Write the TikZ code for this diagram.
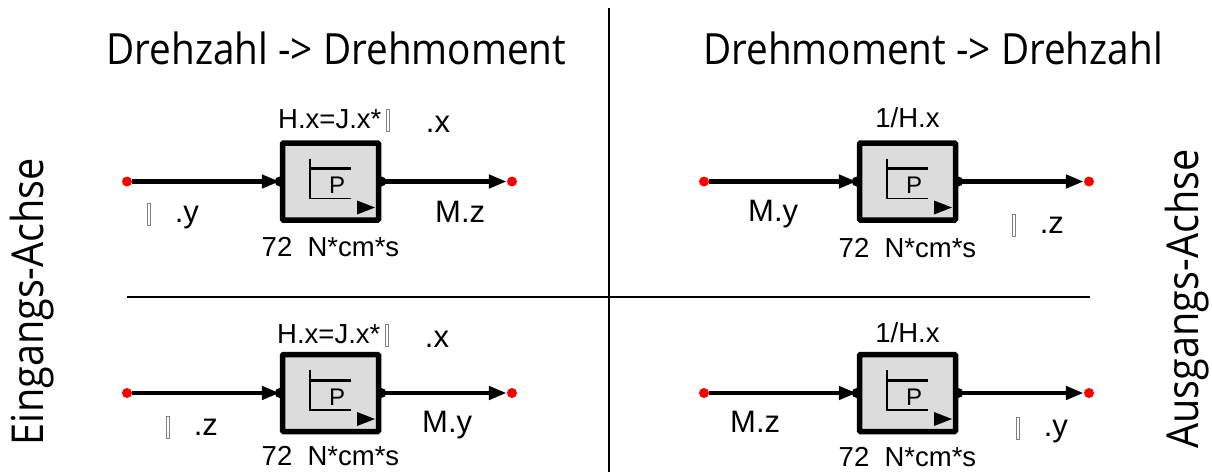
\documentclass[tikz,border=0pt]{standalone}
\usepackage{fontspec}
\usetikzlibrary{arrows.meta}
\newfontfamily\labfont{Liberation Sans}
\newfontfamily\handfont[FakeStretch=0.9]{Open Sans}
\definecolor{boxgray}{RGB}{220,220,220}
\newcommand\nog{\raisebox{-3pt}{\color{gray}\fboxsep=0pt\fboxrule=0.6pt\fbox{\rule{0pt}{21pt}\hspace{2.4pt}}}}
\tikzset{
  blk/.style={draw, line width=5.5pt, fill=boxgray, minimum width=96pt, minimum height=77pt, inner sep=0pt, rounded corners=1pt},
  pin/.style={circle, fill=red, inner sep=0pt, minimum size=10pt},
  port/.style={circle, fill=black, inner sep=0pt, minimum size=10pt},
  sig/.style={line width=4.5pt, -{Triangle[length=18pt,width=13pt]}},
  par/.style={font=\labfont\fontsize{27.5}{32}\selectfont, inner sep=0pt},
  lab/.style={font=\labfont\fontsize{31}{36}\selectfont, inner sep=0pt, anchor=base west},
  head/.style={font=\handfont\fontsize{43}{50}\selectfont, inner sep=0pt, anchor=base},
}
\begin{document}
\begin{tikzpicture}[x=1pt, y=-1pt]
            \useasboundingbox (0,0) rectangle (1212,472);
            \node[head] (h1) at (336.5,64) {Drehzahl -> Drehmoment};
            \node[head] (h2) at (933,64) {Drehmoment -> Drehzahl};
            \node[head, rotate=90, font=\handfont\fontsize{44}{50}\selectfont] (ein) at (43,301.5) {Eingangs-Achse};
            \node[head, rotate=90, font=\handfont\fontsize{44}{50}\selectfont] (aus) at (1198,299) {Ausgangs-Achse};
            \coordinate (vt) at (609,8);
            \coordinate (vb) at (609,472);
            \coordinate (hl) at (127,297);
            \coordinate (hr) at (1090,297);
            \draw[line width=1.2pt] (vt) -- (vb);
            \draw[line width=1.2pt] (hl) -- (hr);
            \foreach \n/\cx/\cy in {a/330.5/181.5, b/907.5/181.5, c/330.5/393, d/907.5/393} {
              \node[blk] (bx\n) at (\cx,\cy) {};
              \node[pin] (in\n) at (\cx-203.5,\cy) {};
              \node[pin] (out\n) at (\cx+181.5,\cy) {};
              \draw[line width=1.5pt] ([shift={(-20.5,-23)}]bx\n.center) -- ([shift={(-20.5,17)}]bx\n.center) -- ([shift={(20.5,17)}]bx\n.center);
              \draw[line width=3pt] ([shift={(-20.5,-13)}]bx\n.center) -- ([shift={(20.5,-13)}]bx\n.center);
              \fill ([shift={(26.5,19)}]bx\n.center) -- ([shift={(26.5,33)}]bx\n.center) -- ([shift={(44.5,26)}]bx\n.center) -- cycle;
              \node[font=\labfont\fontsize{24}{28}\selectfont, inner sep=0pt] (p\n) at ([shift={(6.5,4)}]bx\n.center) {P};
              \draw[sig] (in\n) -- (bx\n.west);
              \draw[sig] (bx\n.east) -- (out\n);
              \node[port] (pi\n) at (bx\n.west) {};
              \node[port] (po\n) at (bx\n.east) {};
            }
            \node[par, anchor=base west] (ta) at (278,128) {H.x=J.x*\hspace{5pt}\nog\hspace{36pt}\raisebox{-4pt}{\fontsize{31}{36}\selectfont .x}};
            \node[lab] (ia) at (147,222) {\nog\hspace{24pt}.y};
            \node[lab] (oa) at (435,222) {M.z};
            \node[par, anchor=base] (ka) at (330.5,256) {72\ \ N*cm*s};
            \node[par, anchor=base] (tb) at (907.5,127) {1/H.x};
            \node[lab] (ib) at (748,221) {M.y};
            \node[lab] (ob) at (1012,233) {\nog\hspace{24pt}.z};
            \node[par, anchor=base] (kb) at (907.5,257) {72\ \ N*cm*s};
            \node[par, anchor=base west] (tc) at (277,343) {H.x=J.x*\hspace{5pt}\nog\hspace{36pt}\raisebox{-4pt}{\fontsize{31}{36}\selectfont .x}};
            \node[lab] (ic) at (166,435) {\nog\hspace{24pt}.z};
            \node[lab] (oc) at (422,432) {M.y};
            \node[par, anchor=base] (kc) at (330.5,465) {72\ \ N*cm*s};
            \node[par, anchor=base] (td) at (907.5,342) {1/H.x};
            \node[lab] (id) at (730,432) {M.z};
            \node[lab] (od) at (1016,436) {\nog\hspace{24pt}.y};
            \node[par, anchor=base] (kd) at (907.5,466) {72\ \ N*cm*s};
        \end{tikzpicture}
\end{document}
